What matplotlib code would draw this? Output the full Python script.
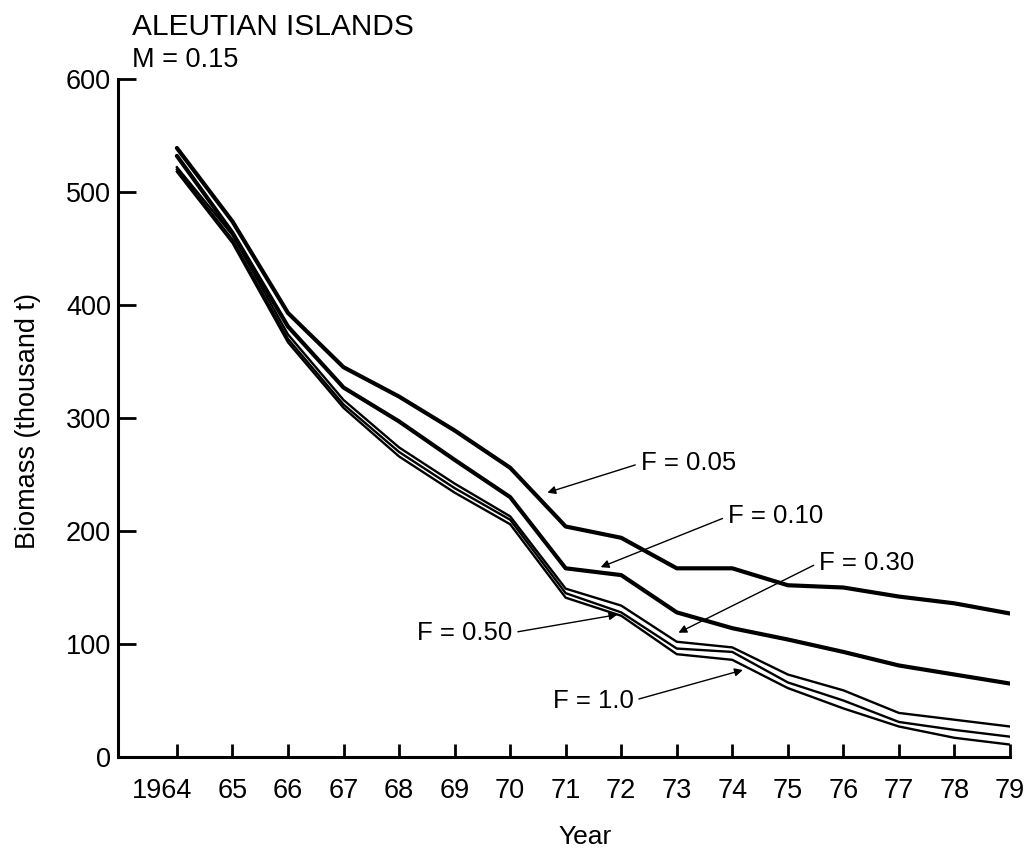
import matplotlib.pyplot as plt
from matplotlib.transforms import ScaledTranslation

plt.rcParams['font.family'] = ['Liberation Sans', 'DejaVu Sans']

years = list(range(1964, 1980))
year_labels = ['1964'] + [str(y)[2:] for y in years[1:]]

# biomass (thousand t) by fishing mortality
f005 = [539, 474, 393, 345, 319, 289, 256, 204, 194, 167, 167, 152, 150, 142, 136, 127]
f010 = [532, 464, 381, 327, 297, 263, 230, 167, 161, 128, 114, 104, 93, 81, 73, 65]
f030 = [522, 462, 374, 316, 274, 242, 213, 149, 134, 102, 97, 73, 59, 39, 33, 27]
f050 = [520, 458, 370, 312, 270, 238, 210, 145, 128, 96, 93, 66, 50, 31, 24, 18]
f100 = [518, 455, 367, 309, 266, 234, 206, 141, 125, 91, 86, 61, 43, 27, 17, 11]

fig = plt.figure(figsize=(10.28, 8.5), dpi=100)
ax = fig.add_axes([0.1148, 0.1094, 0.8677, 0.7976])

ax.plot(years, f005, color='black', lw=3.0, solid_capstyle='round', solid_joinstyle='round')
ax.plot(years, f010, color='black', lw=3.0, solid_capstyle='round', solid_joinstyle='round')
ax.plot(years, f030, color='black', lw=1.7, solid_joinstyle='round')
ax.plot(years, f050, color='black', lw=1.7, solid_joinstyle='round')
ax.plot(years, f100, color='black', lw=1.7, solid_joinstyle='round')

arrow = dict(arrowstyle='-|>', color='black', lw=1.0, mutation_scale=12, shrinkA=2, shrinkB=0)

ax.annotate('F = 0.05', xy=(1970.67, 234), xytext=(1972.35, 260), fontsize=18.5,
            ha='left', va='center', arrowprops=dict(arrow, relpos=(0, 0.5)))
ax.annotate('F = 0.10', xy=(1971.63, 168), xytext=(1973.92, 213), fontsize=18.5,
            ha='left', va='center', arrowprops=dict(arrow, relpos=(0, 0.5)))
ax.annotate('F = 0.30', xy=(1973.03, 110), xytext=(1975.56, 172), fontsize=18.5,
            ha='left', va='center', arrowprops=dict(arrow, relpos=(0, 0.5)))
ax.annotate('F = 0.50', xy=(1971.93, 126), xytext=(1970.04, 110), fontsize=18.5,
            ha='right', va='center', arrowprops=dict(arrow, relpos=(1, 0.5)))
ax.annotate('F = 1.0', xy=(1974.19, 77), xytext=(1972.22, 50), fontsize=18.5,
            ha='right', va='center', arrowprops=dict(arrow, relpos=(1, 0.5)))

ax.set_xlim(1962.94, 1979)
ax.set_ylim(0, 600)
ax.set_xticks(years)
ax.set_xticklabels(year_labels)
ax.set_yticks([0, 100, 200, 300, 400, 500, 600])

ax.spines['top'].set_visible(False)
ax.spines['right'].set_visible(False)
ax.spines['left'].set_linewidth(2.2)
ax.spines['bottom'].set_linewidth(2.2)
ax.tick_params(axis='x', direction='in', length=9.5, width=2, labelsize=19.5, pad=15)
ax.tick_params(axis='y', direction='in', length=13, width=2, labelsize=19.5, pad=5)

# "64" sits under the tick, "19" hangs to the left
lab = ax.get_xticklabels()[0]
lab.set_transform(lab.get_transform() + ScaledTranslation(-0.15, 0, fig.dpi_scale_trans))

fig.text(0.1284, 0.9588, 'ALEUTIAN ISLANDS', fontsize=21.5, va='baseline', ha='left')
fig.text(0.1284, 0.921, 'M = 0.15', fontsize=19.5, va='baseline', ha='left')
fig.text(28 / 1028, 1 - 421 / 850, 'Biomass (thousand t)', rotation=90, fontsize=19.5,
         ha='center', va='center')
fig.text(585 / 1028, 1 - 837 / 850, 'Year', fontsize=19, ha='center', va='center')

plt.savefig('out.png', dpi=100)
